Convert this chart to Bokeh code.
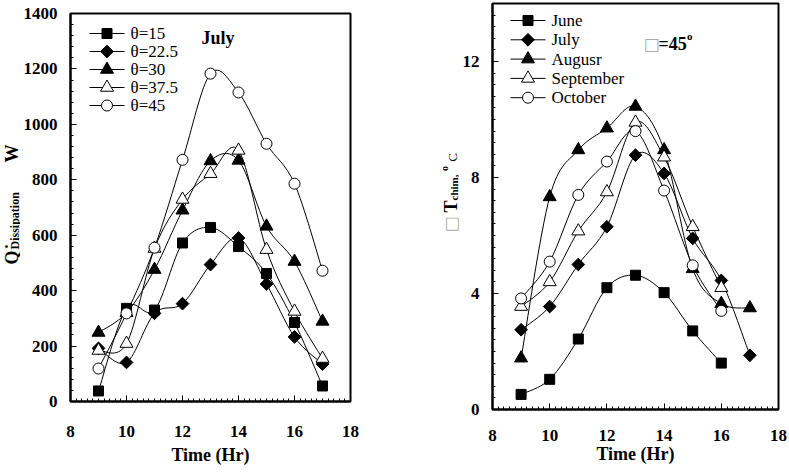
import numpy as np
from bokeh.plotting import figure
from bokeh.layouts import row
from bokeh.models import Range1d, SingleIntervalTicker, Label
from bokeh.embed import file_html
from bokeh.resources import INLINE

# ---------------- data: left panel (July, heat dissipation, W) ----------------
hours = [9, 10, 11, 12, 13, 14, 15, 16, 17]
theta_labels = ["θ=15", "θ=22.5", "θ=30", "θ=37.5", "θ=45"]
q_theta15 = [38, 336, 330, 572, 628, 559, 462, 285, 56]
q_theta22_5 = [192, 141, 318, 353, 494, 590, 424, 233, 135]
q_theta30 = [249, 320, 476, 690, 868, 870, 632, 505, 289]
q_theta37_5 = [184, 209, 552, 729, 822, 906, 548, 325, 155]
q_theta45 = [119, 318, 555, 872, 1183, 1115, 930, 786, 472]

# ---------------- data: right panel (theta = 45, temperature rise, C) ----------------
hours_short = [9, 10, 11, 12, 13, 14, 15, 16]
month_labels = ["June", "July", "Augusr", "September", "October"]
dt_june = [0.52, 1.04, 2.43, 4.2, 4.63, 4.03, 2.71, 1.6]
dt_july = [2.75, 3.55, 5.0, 6.3, 8.77, 8.14, 5.9, 4.45, 1.87]
dt_august = [1.77, 7.33, 8.95, 9.7, 10.45, 8.95, 4.85, 3.65, 3.5]
dt_september = [3.55, 4.4, 6.15, 7.5, 9.9, 8.7, 6.3, 4.2]
dt_october = [3.83, 5.1, 7.4, 8.55, 9.6, 7.55, 4.97, 3.4]

SERIF = "Liberation Serif"
H = 472

# marker styles: (marker, size, fill, angle)
styles = [
    ("square", 10, "black", 0.0),
    ("square", 9, "black", np.pi / 4),
    ("triangle", 13, "black", 0.0),
    ("triangle", 13, "white", 0.0),
    ("circle", 11, "white", 0.0),
]


def smooth_bezier(xs, ys):
    """Bezier control points (Catmull-Rom style) for a smoothed line through the data."""
    xs = np.asarray(xs, float)
    ys = np.asarray(ys, float)
    n = len(xs)
    px = np.concatenate([[xs[0]], xs, [xs[-1]]])
    py = np.concatenate([[ys[0]], ys, [ys[-1]]])
    return dict(
        x0=px[1:n], y0=py[1:n], x1=px[2:n + 1], y1=py[2:n + 1],
        cx0=px[1:n] + (px[2:n + 1] - px[0:n - 1]) / 6.0,
        cy0=py[1:n] + (py[2:n + 1] - py[0:n - 1]) / 6.0,
        cx1=px[2:n + 1] - (px[3:n + 2] - px[1:n]) / 6.0,
        cy1=py[2:n + 1] - (py[3:n + 2] - py[1:n]) / 6.0,
    )


def style_axes(p, xtick, ytick):
    p.xgrid.visible = False
    p.ygrid.visible = False
    p.outline_line_color = "black"
    p.outline_line_width = 2
    p.background_fill_color = "white"
    p.border_fill_color = "white"
    p.xaxis.ticker = xtick
    p.yaxis.ticker = ytick
    p.axis.axis_line_width = 2
    p.axis.axis_line_color = "black"
    p.axis.major_tick_in = 6
    p.axis.major_tick_out = 0
    p.axis.minor_tick_in = 3
    p.axis.minor_tick_out = 0
    p.axis.major_tick_line_color = "black"
    p.axis.minor_tick_line_color = "black"
    p.axis.major_label_text_font = SERIF
    p.axis.major_label_text_font_style = "bold"
    p.axis.major_label_text_font_size = "17px"
    p.axis.major_label_text_color = "black"
    p.xaxis.axis_label = "Time (Hr)"
    p.xaxis.axis_label_text_font = SERIF
    p.xaxis.axis_label_text_font_style = "bold"
    p.xaxis.axis_label_text_font_size = "18px"
    p.xaxis.axis_label_text_color = "black"


def add_label(p, x, y, text, size, style="bold", angle=0.0, align="center",
              baseline="middle", color="black", font=SERIF):
    p.add_layout(Label(x=x, y=y, text=text, angle=angle, text_font=font,
                       text_font_size=size, text_font_style=style,
                       text_align=align, text_baseline=baseline, text_color=color))


def draw_series(p, fw, fh, xs_list, ys_list, labels, leg_x, leg_y0, pitch):
    """Smoothed lines + markers, and a legend laid out in frame pixels."""
    xr, yr = p.x_range, p.y_range
    to_x = lambda dx: xr.start + dx / fw * (xr.end - xr.start)
    to_y = lambda dy: yr.end - dy / fh * (yr.end - yr.start)
    for xs, ys in zip(xs_list, ys_list):
        p.bezier(line_color="black", line_width=1, **smooth_bezier(xs, ys))
    for (marker, size, fill, ang), xs, ys in zip(styles, xs_list, ys_list):
        p.scatter(xs, ys, marker=marker, size=size, fill_color=fill,
                  line_color="black", line_width=1, angle=ang)
    # legend
    rows_y = [to_y(leg_y0 + i * pitch) for i in range(len(labels))]
    p.segment(x0=[to_x(leg_x)] * len(labels), x1=[to_x(leg_x + 35)] * len(labels),
              y0=rows_y, y1=rows_y, line_color="black", line_width=1)
    for (marker, size, fill, ang), yy, lab in zip(styles, rows_y, labels):
        p.scatter([to_x(leg_x + 17.5)], [yy], marker=marker, size=size, fill_color=fill,
                  line_color="black", line_width=1, angle=ang)
        add_label(p, to_x(leg_x + 41), yy, lab, "17px", style="normal", align="left")


def make_strip(width):
    s = figure(width=width, height=H, x_range=Range1d(0, width), y_range=Range1d(0, H),
               output_backend="svg", toolbar_location=None, title_location=None,
               x_axis_location=None, y_axis_location=None, frame_align=False,
               min_border_left=0, min_border_right=0, min_border_top=0, min_border_bottom=0)
    s.outline_line_color = None
    s.xgrid.visible = False
    s.ygrid.visible = False
    s.background_fill_color = "white"
    s.border_fill_color = "white"
    return s


# ---------------- left y-axis title strip ----------------
s1 = make_strip(20)
add_label(s1, 11, H - 257, "Q", "18px", angle=np.pi / 2)
add_label(s1, 5.5, H - 246, "•", "10px", angle=np.pi / 2)
add_label(s1, 14, H - 249, "Dissipation", "12px", angle=np.pi / 2, align="left")
add_label(s1, 11, H - 153, "W", "18px", angle=np.pi / 2)

# ---------------- left figure ----------------
p1 = figure(frame_width=280, frame_height=388, x_range=Range1d(8, 18), y_range=Range1d(0, 1400),
            output_backend="svg", toolbar_location=None, title_location=None, frame_align=False,
            min_border_left=47, min_border_right=45, min_border_top=13, min_border_bottom=71)
style_axes(p1, SingleIntervalTicker(interval=2, num_minor_ticks=10),
           SingleIntervalTicker(interval=200, num_minor_ticks=5))
p1.xaxis.major_label_standoff = 24
p1.xaxis.axis_label_standoff = 5
p1.yaxis.major_label_standoff = 13

draw_series(p1, 280, 388, [hours] * 5,
            [q_theta15, q_theta22_5, q_theta30, q_theta37_5, q_theta45],
            theta_labels, 19, 20, 18)
add_label(p1, 12.68, 1313, "July", "18px", align="left")

# ---------------- right y-axis title strip ----------------
s2 = make_strip(64)
add_label(s2, 55, H - 224, "□", "17px", style="normal", angle=np.pi / 2,
          color="#aaaaaa", font="DejaVu Sans")
add_label(s2, 55, H - 206, "T", "18px", angle=np.pi / 2)
add_label(s2, 58, H - 200, "chim,", "11px", angle=np.pi / 2, align="left")
add_label(s2, 49, H - 168, "o", "10px", angle=np.pi / 2)
add_label(s2, 57, H - 157, "C", "13px", style="normal", angle=np.pi / 2)

# ---------------- right figure ----------------
p2 = figure(frame_width=286, frame_height=406, x_range=Range1d(8, 18), y_range=Range1d(0, 14),
            output_backend="svg", toolbar_location=None, title_location=None, frame_align=False,
            min_border_left=30, min_border_right=11, min_border_top=3, min_border_bottom=63)
style_axes(p2, SingleIntervalTicker(interval=2, num_minor_ticks=10),
           SingleIntervalTicker(interval=4, num_minor_ticks=10))
p2.xaxis.major_label_standoff = 20
p2.xaxis.axis_label_standoff = 0
p2.yaxis.major_label_standoff = 13

draw_series(p2, 286, 406, [hours_short, hours, hours, hours_short, hours_short],
            [dt_june, dt_july, dt_august, dt_september, dt_october],
            month_labels, 18, 17, 19.3)

add_label(p2, 13.56, 12.62, "□", "17px", style="normal", color="#aaaaaa", font="DejaVu Sans")
add_label(p2, 13.80, 12.62, "=45", "18px", align="left")
add_label(p2, 14.80, 12.88, "o", "11px", align="left")

layout = row(s1, p1, s2, p2)
open("out.html", "w").write(file_html(layout, INLINE))
